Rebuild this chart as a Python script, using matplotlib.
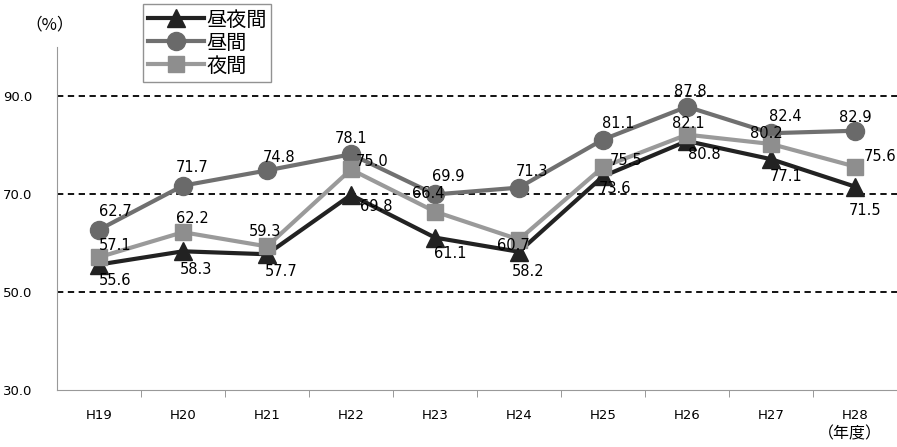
import numpy as np
import matplotlib
matplotlib.use("Agg")
import matplotlib.pyplot as plt

plt.rcParams['font.family'] = ['Noto Sans CJK JP', 'DejaVu Sans']

years = ["H19", "H20", "H21", "H22", "H23", "H24", "H25", "H26", "H27", "H28"]
allday = [55.6, 58.3, 57.7, 69.8, 61.1, 58.2, 73.6, 80.8, 77.1, 71.5]
daytime = [62.7, 71.7, 74.8, 78.1, 69.9, 71.3, 81.1, 87.8, 82.4, 82.9]
night = [57.1, 62.2, 59.3, 75.0, 66.4, 60.7, 75.5, 82.1, 80.2, 75.6]

# label offsets in pixels (dx, dy) -- dy positive = up
off_allday = [(16, -16), (13, -18), (14, -17), (25, -12), (15, -16),
              (9, -20), (12, -12), (17, -13), (15, -17), (10, -24)]
off_day = [(16, 18), (9, 18), (12, 13), (0, 16), (13, 18),
           (13, 16), (15, 16), (3, 15), (14, 17), (0, 13)]
off_night = [(16, 12), (9, 14), (-2, 15), (21, 8), (-7, 18),
             (-6, -6), (23, 7), (1, 11), (-5, 10), (25, 10)]

fig = plt.figure(figsize=(8.97, 4.47), dpi=100)
ax = fig.add_axes([0.0635, 0.1275, 0.9365, 0.7675])

x = np.arange(len(years))
series = [
    ("昼夜間", allday, "#222222", "#222222", "^", 13, off_allday),
    ("昼間", daytime, "#707070", "#6a6a6a", "o", 13, off_day),
    ("夜間", night, "#9a9a9a", "#8e8e8e", "s", 11, off_night),
]
for name, vals, lc, mc, mk, ms, offs in series:
    ax.plot(x, vals, color=lc, lw=3, marker=mk, markersize=ms,
            markerfacecolor=mc, markeredgecolor=mc, label=name, zorder=3)
for name, vals, lc, mc, mk, ms, offs in series:
    for xi, v, (dx, dy) in zip(x, vals, offs):
        ax.annotate("%.1f" % v, (xi, v), xytext=(dx, dy),
                    textcoords="offset pixels", ha="center", va="center",
                    fontsize=10.5, family="DejaVu Sans", zorder=5)

ax.set_xlim(-0.5, len(years) - 0.5)
ax.set_ylim(30, 100)
ax.set_yticks([30, 50, 70, 90])
ax.set_yticklabels(["%.1f" % t for t in [30, 50, 70, 90]], fontsize=9.5,
                   family="DejaVu Sans")
for t in [50, 70, 90]:
    ax.axhline(t, color="black", ls=(0, (3.5, 2.5)), lw=1.3, zorder=1)

ax.set_xticks(x)
ax.set_xticklabels(years, fontsize=9.5, family="DejaVu Sans")
ax.set_xticks(np.arange(len(years)) + 0.5, minor=True)
ax.tick_params(axis="x", which="major", length=0, pad=14)
ax.tick_params(axis="x", which="minor", length=5, color="#888888")
ax.tick_params(axis="y", length=0, pad=18)

for s in ["top", "right"]:
    ax.spines[s].set_visible(False)
ax.spines["left"].set_color("#999999")
ax.spines["bottom"].set_color("#999999")

fig.text(0.055, 0.945, "（%）", fontsize=12, ha="center", va="center")
fig.text(0.947, 0.03, "（年度）", fontsize=11.5, ha="center", va="center")

leg = fig.legend(loc="upper left", bbox_to_anchor=(0.159, 0.99),
                 fontsize=14.5, frameon=True, fancybox=False, handlelength=2.8,
                 borderpad=0.25, labelspacing=0.1, handletextpad=0.1,
                 borderaxespad=0)
leg.get_frame().set_edgecolor("#777777")
leg.get_frame().set_linewidth(1.0)

fig.savefig("out.png", dpi=100)
